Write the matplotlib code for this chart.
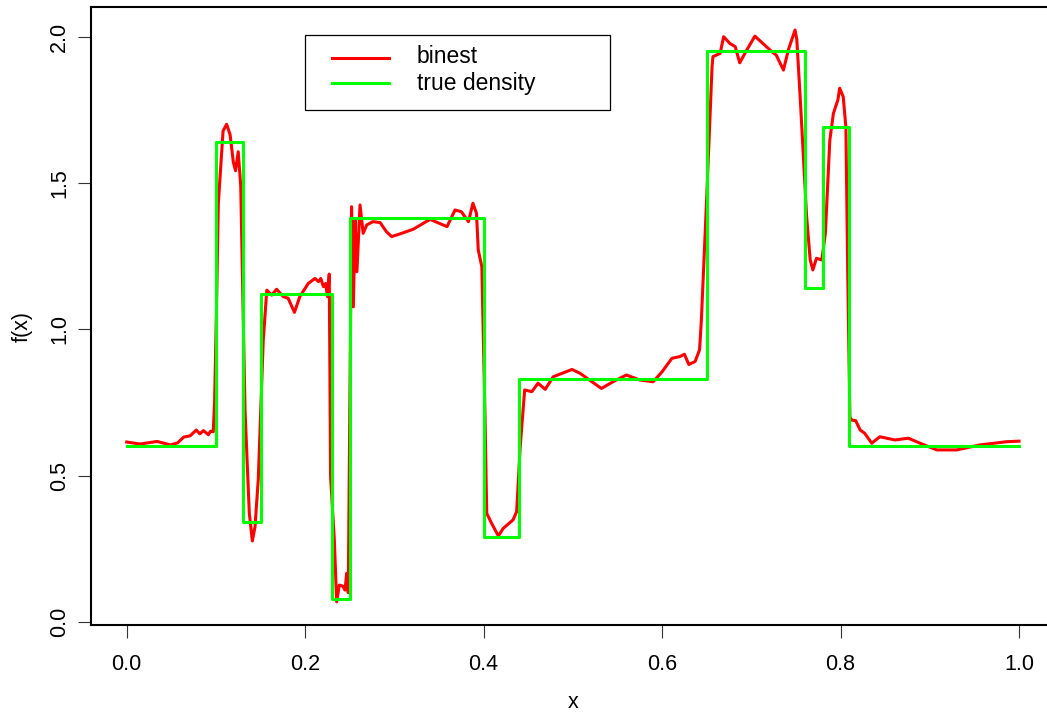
import matplotlib
matplotlib.use("Agg")
import matplotlib.pyplot as plt
from matplotlib.lines import Line2D
from matplotlib.patches import Rectangle

# Piecewise-constant true density: bin edges and heights
true_edges = [0.0, 0.10, 0.13, 0.15, 0.23, 0.25, 0.40, 0.44, 0.65, 0.76, 0.78, 0.81, 1.0]
true_heights = [0.60, 1.64, 0.34, 1.12, 0.08, 1.38, 0.29, 0.83, 1.95, 1.14, 1.69, 0.60]

# Binned estimate evaluated on a grid
binest_x = [
    0.000, 0.015, 0.034, 0.049, 0.057, 0.064, 0.071, 0.078, 0.082, 0.086,
    0.0915, 0.094, 0.097, 0.0985, 0.1005, 0.1027, 0.108, 0.112, 0.1158, 0.1195,
    0.122, 0.125, 0.1278, 0.1326, 0.1374, 0.1408, 0.1438, 0.1475, 0.153, 0.157,
    0.1625, 0.168, 0.1755, 0.181, 0.188, 0.194, 0.2035, 0.211, 0.215, 0.2175,
    0.2205, 0.223, 0.225, 0.227, 0.2285, 0.2327, 0.2353, 0.2383, 0.242, 0.2447,
    0.2465, 0.2483, 0.252, 0.254, 0.256, 0.258, 0.2615, 0.265, 0.269, 0.276,
    0.284, 0.291, 0.297, 0.306, 0.321, 0.340, 0.359, 0.368, 0.375, 0.383,
    0.388, 0.392, 0.394, 0.398, 0.4015, 0.4035, 0.409, 0.4165, 0.422, 0.433,
    0.437, 0.441, 0.446, 0.454, 0.461, 0.469, 0.478, 0.499, 0.508, 0.532,
    0.545, 0.560, 0.575, 0.590, 0.600, 0.611, 0.620, 0.625, 0.630, 0.637,
    0.642, 0.644, 0.650, 0.656, 0.657, 0.665, 0.669, 0.676, 0.682, 0.687,
    0.695, 0.704, 0.723, 0.728, 0.736, 0.7415, 0.749, 0.751, 0.755, 0.758,
    0.762, 0.766, 0.769, 0.773, 0.779, 0.783, 0.788, 0.792, 0.797, 0.799,
    0.803, 0.806, 0.808, 0.8105, 0.8125, 0.817, 0.822, 0.827, 0.835, 0.844,
    0.861, 0.876, 0.889, 0.908, 0.930, 0.956, 0.986, 1.000,
]
binest_y = [
    0.615, 0.608, 0.617, 0.605, 0.612, 0.632, 0.636, 0.656, 0.643, 0.654,
    0.640, 0.652, 0.650, 0.750, 1.050, 1.430, 1.678, 1.701, 1.666, 1.572,
    1.542, 1.607, 1.490, 0.725, 0.372, 0.277, 0.325, 0.489, 0.960, 1.134,
    1.117, 1.137, 1.112, 1.106, 1.058, 1.112, 1.157, 1.174, 1.163, 1.174,
    1.146, 1.157, 1.112, 1.189, 0.497, 0.280, 0.069, 0.126, 0.123, 0.109,
    0.166, 0.100, 1.419, 1.077, 1.374, 1.197, 1.425, 1.328, 1.357, 1.368,
    1.365, 1.334, 1.317, 1.326, 1.342, 1.376, 1.351, 1.408, 1.402, 1.368,
    1.431, 1.397, 1.271, 1.214, 0.713, 0.371, 0.337, 0.294, 0.320, 0.349,
    0.377, 0.599, 0.793, 0.787, 0.816, 0.795, 0.838, 0.863, 0.850, 0.798,
    0.821, 0.844, 0.827, 0.821, 0.855, 0.901, 0.907, 0.915, 0.880, 0.890,
    0.930, 1.030, 1.450, 1.897, 1.932, 1.943, 2.000, 1.977, 1.966, 1.911,
    1.955, 2.002, 1.949, 1.937, 1.886, 1.955, 2.023, 1.990, 1.780, 1.610,
    1.385, 1.237, 1.203, 1.243, 1.237, 1.328, 1.647, 1.738, 1.784, 1.824,
    1.795, 1.690, 1.200, 0.700, 0.690, 0.688, 0.656, 0.645, 0.611, 0.633,
    0.622, 0.628, 0.611, 0.588, 0.588, 0.605, 0.616, 0.618,
]

x_ticks = [0.0, 0.2, 0.4, 0.6, 0.8, 1.0]
y_ticks = [0.0, 0.5, 1.0, 1.5, 2.0]
legend_labels = ["binest", "true density"]
RED = "#ff0000"
GREEN = "#00ff00"

plt.rcParams["font.family"] = ["Liberation Sans", "DejaVu Sans"]

W, H = 1047, 715
fig = plt.figure(figsize=(W / 100, H / 100), dpi=100)


def fx(px):
    return px / W


def fy(py):
    return 1 - py / H


# plot region: x from -0.04 to 1.04, right side runs past the figure edge
ax = fig.add_axes([fx(91.0), fy(625), (1054.7 - 91.0) / W, (625 - 6.5) / H])
ax.set_xlim(-0.04, 1.04)
ax.set_ylim(-0.0103, 2.1033)

ax.plot(binest_x, binest_y, color=RED, lw=2.2, solid_joinstyle="round", zorder=2)
step_y = true_heights + [true_heights[-1]]
ax.plot(true_edges, step_y, drawstyle="steps-post", color=GREEN, lw=2.2, zorder=3)

for s in ax.spines.values():
    s.set_linewidth(1.5)
    s.set_color("black")

ax.set_xticks(x_ticks)
ax.set_xticklabels([f"{v:.1f}" for v in x_ticks])
ax.set_yticks(y_ticks)
ax.set_yticklabels([f"{v:.1f}" for v in y_ticks])
ax.tick_params(axis="both", direction="out", length=9.4, width=0.8,
               color="#333333", labelsize=15.5)
ax.tick_params(axis="x", pad=11.5)
ax.tick_params(axis="y", pad=5.5, labelrotation=90)
for lab in ax.get_yticklabels():
    lab.set_va("center")

fig.text(fx(573), fy(708), "x", ha="center", va="baseline", fontsize=15.5)
fig.text(fx(22), fy(327), "f(x)", ha="center", va="center", rotation=90,
         fontsize=15.5)

# legend box
fig.add_artist(Rectangle((fx(305), fy(110)), (610 - 305) / W, (110 - 35) / H,
                         transform=fig.transFigure, fill=False,
                         edgecolor="black", lw=0.9))
for lab, col, yl, yb in [(legend_labels[0], RED, 58.3, 63.3),
                         (legend_labels[1], GREEN, 82.7, 90.0)]:
    fig.add_artist(Line2D([fx(332), fx(389)], [fy(yl), fy(yl)],
                          transform=fig.transFigure, color=col, lw=2.2))
    fig.text(fx(416.7), fy(yb), lab, ha="left", va="baseline", fontsize=16.5)

fig.savefig("out.png", dpi=100, facecolor="white")
